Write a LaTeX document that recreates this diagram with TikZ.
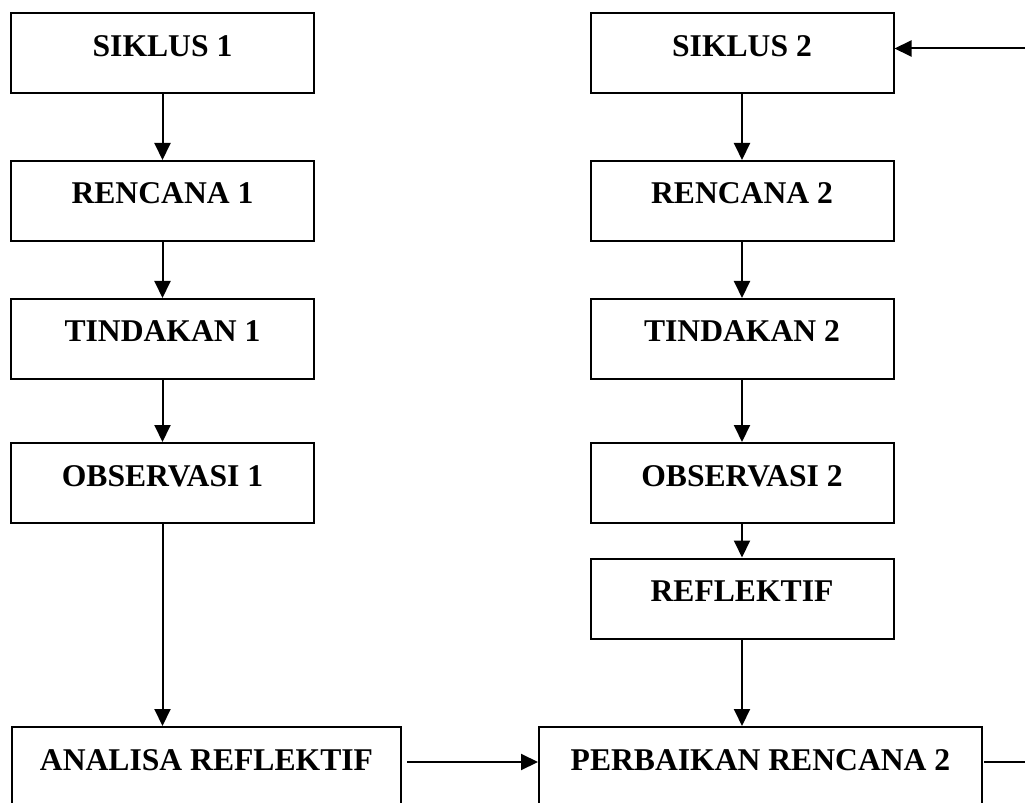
\documentclass[tikz,border=0pt]{standalone}
\usepackage{fontspec}
\setmainfont{Liberation Serif}
\usetikzlibrary{arrows.meta}
\begin{document}
\begin{tikzpicture}[
  box/.style={rectangle, draw, line width=0.04cm, inner sep=0pt,
    minimum width=6.06cm, minimum height=1.6cm,
    text height=0.42cm, text depth=0.3cm,
    font=\fontsize{18}{21}\selectfont\bfseries},
  arr/.style={line width=0.04cm, -{Triangle[length=0.34cm,width=0.32cm]}}]
  \useasboundingbox (0,0) rectangle (20.5,-16.06);
  \clip (0,0) rectangle (20.5,-16.06);
  % Siklus 1
  \node[box] (s1) at (3.25,-1.07) {SIKLUS 1};
  \node[box] (r1) at (3.25,-4.02) {RENCANA 1};
  \node[box] (t1) at (3.25,-6.78) {TINDAKAN 1};
  \node[box] (o1) at (3.25,-9.66) {OBSERVASI 1};
  \node[box, minimum width=7.78cm] (an) at (4.13,-15.34) {ANALISA REFLEKTIF};
  \draw[arr] (s1) -- (r1);
  \draw[arr] (r1) -- (t1);
  \draw[arr] (t1) -- (o1);
  \draw[arr] (o1.south) -- (o1.south |- an.north);
  % Siklus 2
  \node[box] (s2) at (14.84,-1.07) {SIKLUS 2};
  \node[box] (r2) at (14.84,-4.02) {RENCANA 2};
  \node[box] (t2) at (14.84,-6.78) {TINDAKAN 2};
  \node[box] (o2) at (14.84,-9.66) {OBSERVASI 2};
  \node[box] (rf) at (14.84,-11.97) {REFLEKTIF};
  \node[box, minimum width=8.86cm] (pb) at (15.21,-15.34) {PERBAIKAN RENCANA 2};
  \draw[arr] (s2) -- (r2);
  \draw[arr] (r2) -- (t2);
  \draw[arr] (t2) -- (o2);
  \draw[arr] (o2) -- (rf);
  \draw[arr] (rf.south) -- (rf.south |- pb.north);
  % Analisa ke perbaikan, lalu kembali ke siklus 2
  \draw[arr, shorten <=0.1cm] ([yshift=0.1cm]an.east) -- ([yshift=0.1cm]pb.west);
  \draw[arr, shorten <=0.02cm] ([yshift=0.1cm]pb.east) -- ++(1.5,0)
    |- ([yshift=0.1cm]s2.east);
\end{tikzpicture}
\end{document}
